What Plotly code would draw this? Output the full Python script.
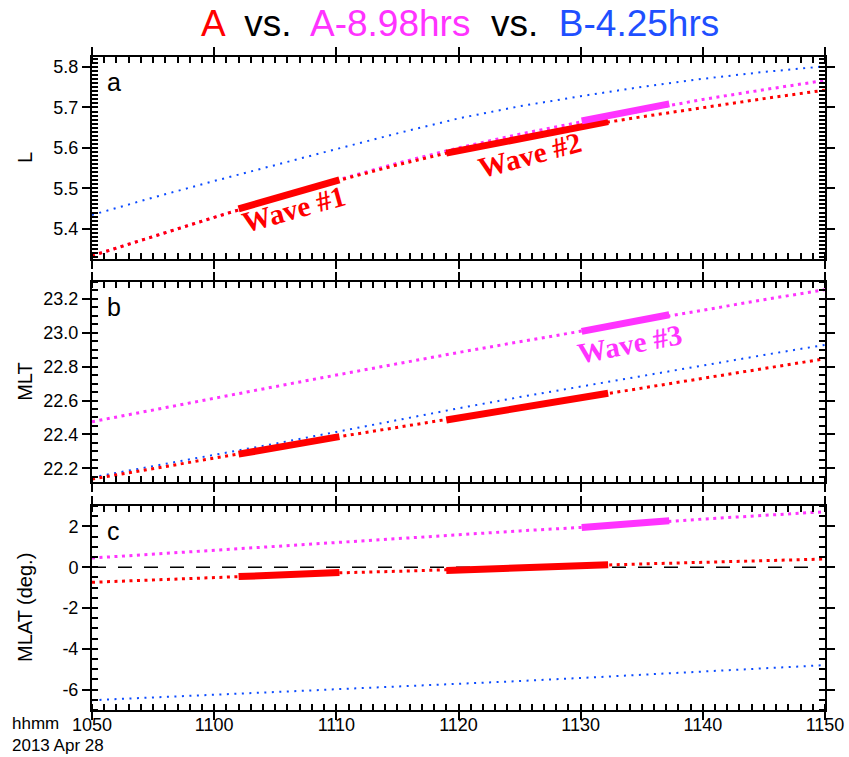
import plotly.graph_objects as go

# ---------------- data ----------------
times = ["2013-04-28 10:50", "2013-04-28 10:55", "2013-04-28 11:00", "2013-04-28 11:05",
         "2013-04-28 11:10", "2013-04-28 11:15", "2013-04-28 11:20", "2013-04-28 11:25",
         "2013-04-28 11:30", "2013-04-28 11:35", "2013-04-28 11:40", "2013-04-28 11:45",
         "2013-04-28 11:50"]

# Panel a: L
L_A = [5.333, 5.381, 5.428, 5.474, 5.518, 5.558, 5.594, 5.625, 5.653, 5.677, 5.700, 5.722, 5.743]
L_Ash = [5.333, 5.381, 5.428, 5.474, 5.520, 5.562, 5.600, 5.634, 5.664, 5.692, 5.720, 5.744, 5.767]
L_B = [5.434, 5.477, 5.518, 5.558, 5.597, 5.636, 5.673, 5.703, 5.728, 5.751, 5.771, 5.788, 5.802]

# Panel b: MLT
MLT_A = [22.137, 22.200, 22.262, 22.322, 22.384, 22.441, 22.497, 22.556, 22.615, 22.673, 22.730, 22.788, 22.846]
MLT_Ash = [22.475, 22.545, 22.613, 22.682, 22.750, 22.817, 22.883, 22.946, 23.008, 23.072, 23.134, 23.194, 23.253]
MLT_B = [22.147, 22.212, 22.278, 22.346, 22.415, 22.485, 22.554, 22.620, 22.683, 22.745, 22.808, 22.868, 22.928]

# Panel c: MLAT
MLAT_A = [-0.74, -0.62, -0.51, -0.40, -0.28, -0.20, -0.12, -0.03, 0.07, 0.16, 0.24, 0.32, 0.40]
MLAT_Ash = [0.45, 0.64, 0.83, 1.03, 1.23, 1.41, 1.60, 1.78, 1.95, 2.17, 2.36, 2.54, 2.72]
MLAT_B = [-6.52, -6.39, -6.26, -6.13, -5.99, -5.85, -5.72, -5.58, -5.43, -5.28, -5.12, -4.96, -4.80]

# Wave intervals (thick segments)
w1_t = ["2013-04-28 11:02:00", "2013-04-28 11:10:15"]
w2_t = ["2013-04-28 11:19:00", "2013-04-28 11:32:15"]
w3_t = ["2013-04-28 11:30:05", "2013-04-28 11:37:15"]
w1_L, w2_L, w3_L = [5.449, 5.521], [5.587, 5.665], [5.667, 5.709]
w1_MLT, w2_MLT, w3_MLT = [22.284, 22.387], [22.485, 22.643], [23.007, 23.105]
w1_MLAT, w2_MLAT, w3_MLAT = [-0.46, -0.26], [-0.16, 0.115], [1.95, 2.28]

zero_t = ["2013-04-28 10:50", "2013-04-28 11:50"]
zero_v = [0, 0]

x_range = ["2013-04-28 10:50", "2013-04-28 11:50"]
y_titles = ["L", "MLT", "MLAT (deg.)"]
panel_letters = ["a", "b", "c"]
c_tickvals = [-6, -4, -2, 0, 2]
c_ticktext = ["-6", "-4", "-2", "0", "2"]

# ---------------- style ----------------
RED = "#ff0000"
MAG = "#ff33ff"
BLUE = "#0a4aff"
FONT = "Liberation Sans, Arial, sans-serif"

fig = go.Figure()

panels = [
    ("x3", "y3", L_B, L_Ash, L_A, [(w1_t, w1_L, RED), (w2_t, w2_L, RED), (w3_t, w3_L, MAG)]),
    ("x2", "y2", MLT_B, MLT_Ash, MLT_A, [(w1_t, w1_MLT, RED), (w2_t, w2_MLT, RED), (w3_t, w3_MLT, MAG)]),
    ("x", "y", MLAT_B, MLAT_Ash, MLAT_A, [(w1_t, w1_MLAT, RED), (w2_t, w2_MLAT, RED), (w3_t, w3_MLAT, MAG)]),
]

for xa, ya, b, ash, a, waves in panels:
    if xa == "x":
        fig.add_trace(go.Scatter(x=zero_t, y=zero_v, mode="lines", xaxis=xa, yaxis=ya,
                                 line=dict(color="black", width=1.5, dash="14px,12px"),
                                 showlegend=False, hoverinfo="skip"))
    fig.add_trace(go.Scatter(x=times, y=b, mode="lines", xaxis=xa, yaxis=ya,
                             line=dict(color=BLUE, width=2, dash="2px,5.5px"), showlegend=False))
    fig.add_trace(go.Scatter(x=times, y=ash, mode="lines", xaxis=xa, yaxis=ya,
                             line=dict(color=MAG, width=3, dash="3px,4.5px"), showlegend=False))
    fig.add_trace(go.Scatter(x=times, y=a, mode="lines", xaxis=xa, yaxis=ya,
                             line=dict(color=RED, width=3, dash="3px,4.5px"), showlegend=False))
    for wt, wv, col in waves:
        fig.add_trace(go.Scatter(x=wt, y=wv, mode="lines", xaxis=xa, yaxis=ya,
                                 line=dict(color=col, width=7), showlegend=False))

# domains (paper fractions)
dom_c = [0.0, 0.3124]
dom_b = [0.3492, 0.6559]
dom_a = [0.6907, 1.0]

def xax(show_labels, anchor):
    return dict(type="date", range=x_range, tickformat="%H%M", dtick=600000,
                tick0="2013-04-28 10:50", ticks="outside", ticklen=8, tickwidth=2,
                tickcolor="black", showline=True, linecolor="black", linewidth=2,
                mirror="allticks", showgrid=False, zeroline=False, anchor=anchor,
                showticklabels=show_labels, domain=[0, 1], automargin=False,
                ticklabelstandoff=-11,
                tickfont=dict(family=FONT, size=18, color="black"),
                minor=dict(dtick=60000, ticklen=6, tickwidth=1.5, tickcolor="black",
                           ticks="inside"))

def yax(rng, dtick, mdt, dom, anchor, fmt=None, **kw):
    d = dict(range=rng, dtick=dtick, ticks="outside", ticklen=8, tickwidth=2,
             tickcolor="black", showline=True, linecolor="black", linewidth=2,
             mirror="allticks", showgrid=False, zeroline=False, anchor=anchor, domain=dom,
             automargin=False,
             tickfont=dict(family=FONT, size=18, color="black"),
             minor=dict(dtick=mdt, ticklen=6, tickwidth=1.5, tickcolor="black", ticks="inside"))
    if fmt:
        d["tickformat"] = fmt
    d.update(kw)
    return d

rng_a, rng_b, rng_c = [5.325, 5.825], [22.12, 23.30], [-7, 3]

fig.update_layout(
    width=849, height=757,
    margin=dict(l=92, r=24, t=57, b=47),
    paper_bgcolor="white", plot_bgcolor="white",
    font=dict(family=FONT, color="black"),
    xaxis=xax(True, "y"),
    xaxis2=xax(False, "y2"),
    xaxis3=xax(False, "y3"),
    yaxis=yax(rng_c, 2, 0.5, dom_c, "x", tickmode="array", tickvals=c_tickvals, ticktext=c_ticktext),
    yaxis2=yax(rng_b, 0.2, 0.05, dom_b, "x2", fmt=".1f"),
    yaxis3=yax(rng_a, 0.1, 0.01, dom_a, "x3", fmt=".1f"),
)
fig.layout.xaxis2.matches = "x"
fig.layout.xaxis3.matches = "x"

annotations = []
# Title
annotations.append(dict(
    text=("<span style='color:#ff0000'>A</span>  vs.  "
          "<span style='color:#ff33ff'>A-8.98hrs</span>  vs.  "
          "<span style='color:#1f4fff'>B-4.25hrs</span>"),
    xref="paper", yref="paper", x=(460 - 92) / 733, y=1.0, yshift=34, xanchor="center", yanchor="middle",
    showarrow=False, font=dict(family=FONT, size=37, color="black")))

# y titles
for title, dom in zip(y_titles, [dom_a, dom_b, dom_c]):
    annotations.append(dict(text=title, xref="paper", yref="paper", x=(25 - 92) / 733,
                            y=(dom[0] + dom[1]) / 2, xanchor="center", yanchor="middle",
                            textangle=-90, showarrow=False,
                            font=dict(family=FONT, size=20, color="black")))
# panel letters
for letter, dom in zip(panel_letters, [dom_a, dom_b, dom_c]):
    annotations.append(dict(text=letter, xref="paper", yref="paper", x=13 / 733,
                            y=dom[1], yshift=-25, xanchor="left", yanchor="middle",
                            showarrow=False, font=dict(family=FONT, size=25, color="black")))

# wave labels
wave_font = "Liberation Serif, Times New Roman, serif"
annotations.append(dict(text="<b>Wave #1</b>", xref="x3", yref="y3",
                        x="2013-04-28 11:06:30", y=5.47, yshift=-9, textangle=-15.5,
                        showarrow=False, font=dict(family=wave_font, size=29, color=RED)))
annotations.append(dict(text="<b>Wave #2</b>", xref="x3", yref="y3",
                        x="2013-04-28 11:25:50", y=5.62, yshift=-15, textangle=-15,
                        showarrow=False, font=dict(family=wave_font, size=29, color=RED)))
annotations.append(dict(text="<b>Wave #3</b>", xref="x2", yref="y2",
                        x="2013-04-28 11:34:00", y=23.05, yshift=-20, textangle=-11,
                        showarrow=False, font=dict(family=wave_font, size=29, color=MAG)))

# bottom-left date label
annotations.append(dict(text="hhmm", xref="paper", yref="paper", x=-82 / 733, y=0, yshift=-13,
                        xanchor="left", yanchor="middle", showarrow=False,
                        font=dict(family=FONT, size=17, color="black")))
annotations.append(dict(text="2013 Apr 28", xref="paper", yref="paper", x=-82 / 733, y=0, yshift=-35,
                        xanchor="left", yanchor="middle", showarrow=False,
                        font=dict(family=FONT, size=17, color="black")))

fig.update_layout(annotations=annotations)
fig.write_html("out.html")
